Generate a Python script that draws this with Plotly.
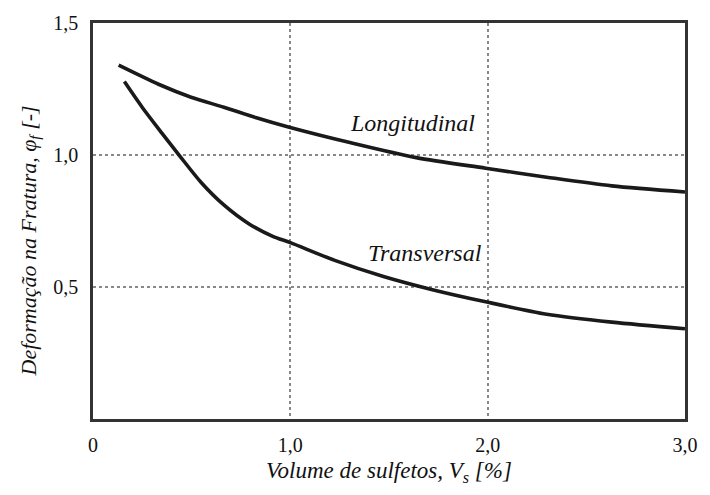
import plotly.graph_objects as go

# Volume of sulfides [%] vs. fracture strain
long_x = [0.13, 0.332, 0.497, 0.663, 0.828, 0.99, 1.307, 1.638, 1.99, 2.299, 2.629, 3.00]
long_y = [1.340, 1.268, 1.219, 1.181, 1.141, 1.106, 1.046, 0.990, 0.950, 0.916, 0.883, 0.860]

trans_x = [0.159, 0.249, 0.349, 0.44, 0.547, 0.663, 0.795, 0.911, 1.00, 1.225, 1.472,
           1.72, 1.99, 2.299, 2.629, 3.00]
trans_y = [1.278, 1.181, 1.083, 0.996, 0.897, 0.811, 0.737, 0.692, 0.668, 0.601, 0.540,
           0.490, 0.444, 0.397, 0.367, 0.342]

x_ticks = [0, 1, 2, 3]
x_labels = ["0", "1,0", "2,0", "3,0"]
y_ticks = [0.5, 1.0, 1.5]
y_labels = ["0,5", "1,0", "1,5"]

FONT = "Times New Roman, Times, 'Liberation Serif', serif"
LINE = "#1a1a1a"
TXT = "#111"

fig = go.Figure()
for xs, ys in [(long_x, long_y), (trans_x, trans_y)]:
    fig.add_trace(go.Scatter(x=xs, y=ys, mode="lines",
                             line=dict(color=LINE, width=3.6, shape="spline",
                                       smoothing=0.8),
                             showlegend=False))

fig.add_annotation(x=1.62, y=1.122, text="<i>Longitudinal</i>", showarrow=False,
                   font=dict(family=FONT, size=24, color=TXT))
fig.add_annotation(x=1.68, y=0.63, text="<i>Transversal</i>", showarrow=False,
                   font=dict(family=FONT, size=24, color=TXT))

# y-axis title placed as a rotated paper annotation
fig.add_annotation(xref="paper", yref="paper", x=-0.107, y=0.45,
                   xanchor="center", yanchor="middle", textangle=-90,
                   text="<i>Deformação na Fratura, φ<sub>f</sub> [-]</i>",
                   showarrow=False, font=dict(family=FONT, size=22, color=TXT))

grid = dict(showgrid=True, gridcolor="#888", griddash="dot", gridwidth=1.5)
fig.update_xaxes(range=[0, 3], tickvals=x_ticks, ticktext=x_labels,
                 showline=True, linecolor="#333", linewidth=2.5, mirror=True,
                 ticks="", zeroline=False, ticklabelstandoff=6,
                 title=dict(text="<i>Volume de sulfetos, V<sub>s</sub> [%]</i>",
                            font=dict(family=FONT, size=23, color=TXT),
                            standoff=8),
                 tickfont=dict(family=FONT, size=20, color=TXT), **grid)
fig.update_yaxes(range=[0, 1.5], tickvals=y_ticks, ticktext=y_labels,
                 showline=True, linecolor="#333", linewidth=2.5, mirror=True,
                 ticks="", zeroline=False, ticklabelstandoff=8,
                 tickfont=dict(family=FONT, size=20, color=TXT), **grid)

fig.update_layout(width=710, height=495, margin=dict(l=93, r=12, t=14, b=76),
                  plot_bgcolor="white", paper_bgcolor="white",
                  font=dict(family=FONT))

fig.write_html("out.html")
